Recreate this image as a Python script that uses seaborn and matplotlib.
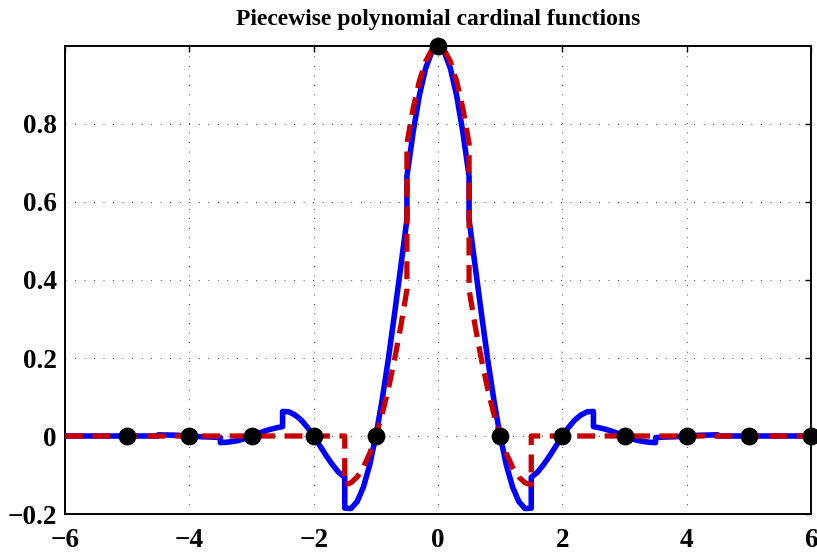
import matplotlib
matplotlib.use("Agg")
import matplotlib.pyplot as plt
import seaborn as sns
import pandas as pd

# ---- data ----
blue_x = [-6.0, -4.5,
          -4.5, -4.2, -4.0, -3.8, -3.6, -3.5,
          -3.5, -3.4, -3.3, -3.2, -3.1, -3.0, -2.9, -2.8, -2.7, -2.6, -2.5,
          -2.5, -2.4, -2.3, -2.2, -2.1, -2.0, -1.9, -1.8, -1.7, -1.6, -1.5,
          -1.5, -1.4, -1.3, -1.2, -1.1, -1.0, -0.9, -0.8, -0.7, -0.6, -0.5,
          -0.5, -0.4, -0.3, -0.2, -0.1, 0.0, 0.1, 0.2, 0.3, 0.4, 0.5,
          0.5, 0.6, 0.7, 0.8, 0.9, 1.0, 1.1, 1.2, 1.3, 1.4, 1.5,
          1.5, 1.6, 1.7, 1.8, 1.9, 2.0, 2.1, 2.2, 2.3, 2.4, 2.5,
          2.5, 2.6, 2.7, 2.8, 2.9, 3.0, 3.1, 3.2, 3.3, 3.4, 3.5,
          3.5, 3.6, 3.8, 4.0, 4.2, 4.5,
          4.5, 6.0]
blue_y = [0.0, 0.0,
          0.003, 0.002, 0.0, -0.002, -0.003, -0.004,
          -0.017, -0.016, -0.014, -0.011, -0.006, 0.0, 0.006, 0.012, 0.017, 0.021, 0.024,
          0.063, 0.062, 0.054, 0.041, 0.022, 0.0, -0.025, -0.050, -0.073, -0.093, -0.106,
          -0.185, -0.186, -0.168, -0.131, -0.075, 0.0, 0.091, 0.196, 0.312, 0.433, 0.555,
          0.666, 0.779, 0.873, 0.942, 0.985, 1.0, 0.985, 0.942, 0.873, 0.779, 0.666,
          0.555, 0.433, 0.312, 0.196, 0.091, 0.0, -0.075, -0.131, -0.168, -0.186, -0.185,
          -0.106, -0.093, -0.073, -0.050, -0.025, 0.0, 0.022, 0.041, 0.054, 0.062, 0.063,
          0.024, 0.021, 0.017, 0.012, 0.006, 0.0, -0.006, -0.011, -0.014, -0.016, -0.017,
          -0.004, -0.003, -0.002, 0.0, 0.002, 0.003,
          0.0, 0.0]

red_x = [-6.0, -1.5,
         -1.5, -1.4, -1.3, -1.2, -1.1, -1.0, -0.9, -0.8, -0.7, -0.6, -0.5,
         -0.5, -0.4, -0.3, -0.2, -0.1, 0.0, 0.1, 0.2, 0.3, 0.4, 0.5,
         0.5, 0.6, 0.7, 0.8, 0.9, 1.0, 1.1, 1.2, 1.3, 1.4, 1.5,
         1.5, 6.0]
red_y = [0.0, 0.0,
         -0.125, -0.12, -0.105, -0.08, -0.045, 0.0, 0.055, 0.12, 0.195, 0.28, 0.375,
         0.75, 0.84, 0.91, 0.96, 0.99, 1.0, 0.99, 0.96, 0.91, 0.84, 0.75,
         0.375, 0.28, 0.195, 0.12, 0.055, 0.0, -0.045, -0.08, -0.105, -0.12, -0.125,
         0.0, 0.0]

dots_x = [-5, -4, -3, -2, -1, 0, 1, 2, 3, 4, 5, 6]
dots_y = [0, 0, 0, 0, 0, 1, 0, 0, 0, 0, 0, 0]

xticks = [-6, -4, -2, 0, 2, 4, 6]
xticklabels = ["\u22126", "\u22124", "\u22122", "0", "2", "4", "6"]
yticks = [-0.2, 0, 0.2, 0.4, 0.6, 0.8]
yticklabels = ["\u22120.2", "0", "0.2", "0.4", "0.6", "0.8"]
title = "Piecewise polynomial cardinal functions"

# ---- style ----
sns.set_theme(style="white")
plt.rcParams["font.family"] = ["Liberation Serif", "DejaVu Serif"]
plt.rcParams["font.weight"] = "bold"
plt.rcParams["text.color"] = "black"

fig = plt.figure(figsize=(8.17, 5.55), dpi=100)
ax = fig.add_axes([65 / 817, 41 / 555, (811 - 65) / 817, (514 - 46) / 555])

df_b = pd.DataFrame({"x": blue_x, "y": blue_y})
df_r = pd.DataFrame({"x": red_x, "y": red_y})
df_d = pd.DataFrame({"x": dots_x, "y": dots_y})

sns.lineplot(data=df_b, x="x", y="y", sort=False, estimator=None, ax=ax,
             color="#0000ff", linewidth=4.0, zorder=3)
sns.lineplot(data=df_r, x="x", y="y", sort=False, estimator=None, ax=ax,
             color="#c80000", linewidth=3.8, zorder=4)
ax.lines[-1].set_linestyle((0, (3.4, 1.8)))
sns.scatterplot(data=df_d, x="x", y="y", ax=ax, color="black", s=165,
                linewidth=0, zorder=5, clip_on=False)

ax.set_xlim(-6, 6)
ax.set_ylim(-0.2, 1.0)
ax.set_xticks(xticks)
ax.set_yticks(yticks)
ax.set_xticklabels(xticklabels)
ax.set_yticklabels(yticklabels)
ax.set_xlabel("")
ax.set_ylabel("")

ax.grid(True, color="#222222", linewidth=0.7, linestyle=(0, (0.8, 9)))
ax.set_axisbelow(True)
for s in ax.spines.values():
    s.set_color("black")
    s.set_linewidth(1.4)
ax.tick_params(axis="both", direction="in", length=4, width=1, colors="black",
               labelcolor="black", top=True, right=True, labelsize=19.5)
ax.tick_params(axis="y", pad=6)
ax.tick_params(axis="x", pad=10)
for lab in ax.get_xticklabels() + ax.get_yticklabels():
    lab.set_fontweight("bold")

ax.set_title(title, fontsize=17, fontweight="bold", color="black", pad=15)

fig.savefig("out.png", dpi=100)
